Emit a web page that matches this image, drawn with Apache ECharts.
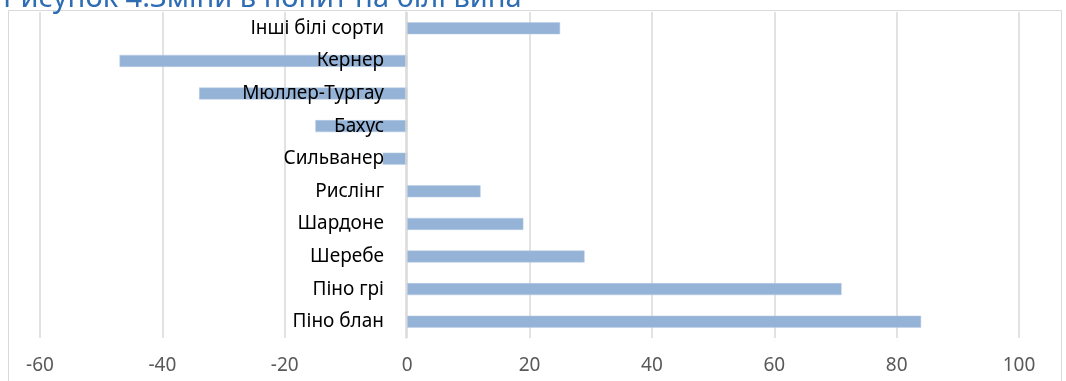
<!DOCTYPE html>
<html>
<head>
<meta charset="utf-8">
<script src="https://cdn.jsdelivr.net/npm/echarts@6/dist/echarts.min.js"></script>
<style>
  html, body { margin: 0; padding: 0; background: #fff; }
  #chart { width: 1066px; height: 381px; }
</style>
</head>
<body>
<div id="chart"></div>
<script>
// categories from bottom to top
var varieties = ["Піно блан", "Піно грі", "Шеребе", "Шардоне", "Рислінг",
  "Сильванер", "Бахус", "Мюллер-Тургау", "Кернер", "Інші білі сорти"];
var changes = [84, 71, 29, 19, 12, -4, -15, -34, -47, 25];
var titleText = "Рисунок 4.Зміни в попит на білі вина";

var chartDom = document.getElementById("chart");
var myChart = echarts.init(chartDom);
var option;

option = {
  animation: false,
  title: {
    text: titleText,
    left: -2,
    top: -21,
    textStyle: {
      color: "#2E6DB4",
      fontFamily: "Noto Sans",
      fontSize: 29,
      fontWeight: "normal",
    },
  },
  graphic: [
    {
      type: "rect",
      shape: { x: 8.5, y: 10.5, width: 1053, height: 380 },
      style: { fill: "none", stroke: "#d9d9d9", lineWidth: 1 },
      silent: true,
    },
  ],
  grid: {
    left: 40,
    right: 47,
    top: 12,
    bottom: 43,
    containLabel: false,
    outerBoundsMode: "none",
  },
  xAxis: {
    type: "value",
    min: -60,
    max: 100,
    interval: 20,
    axisLine: { show: false },
    axisTick: { show: false },
    axisLabel: {
      color: "#595959",
      fontFamily: "Noto Sans",
      fontSize: 19,
      margin: 18,
    },
    splitLine: {
      lineStyle: { color: "#d9d9d9", width: 1.5 },
    },
  },
  yAxis: {
    type: "category",
    data: varieties,
    z: 10,
    // sit the category axis on the zero line
    offset: -366,
    axisLine: {
      onZero: false,
      lineStyle: { color: "#d9d9d9", width: 1.5 },
    },
    axisTick: { show: false },
    axisLabel: {
      color: "#000",
      fontFamily: "Noto Sans",
      fontSize: 19,
      margin: 22,
    },
  },
  series: [
    {
      name: "Зміни",
      type: "bar",
      data: changes,
      barWidth: 12,
      itemStyle: {
        color: "#95B3D7",
        borderColor: "#b8cce4",
        borderWidth: 0.5,
      },
    },
  ],
};

option && myChart.setOption(option);
</script>
</body>
</html>
